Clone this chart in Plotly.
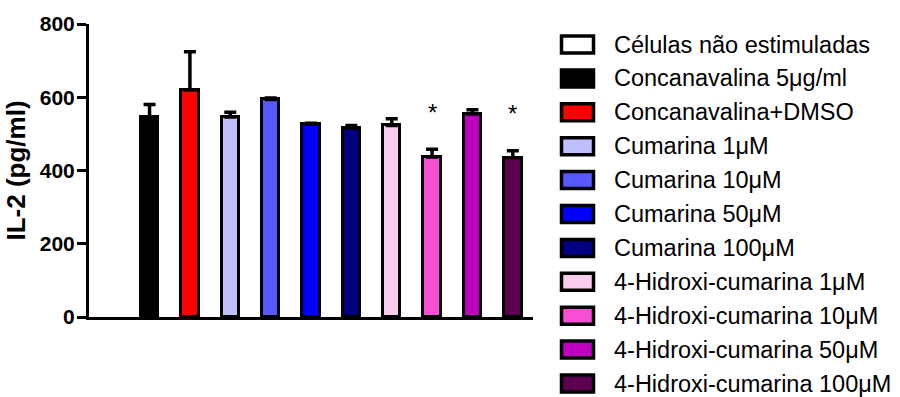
import plotly.graph_objects as go

# IL-2 production per treatment (pg/ml), mean and upper SEM
groups = [
    "Células não estimuladas",
    "Concanavalina 5μg/ml",
    "Concanavalina+DMSO",
    "Cumarina 1μM",
    "Cumarina 10μM",
    "Cumarina 50μM",
    "Cumarina 100μM",
    "4-Hidroxi-cumarina 1μM",
    "4-Hidroxi-cumarina 10μM",
    "4-Hidroxi-cumarina 50μM",
    "4-Hidroxi-cumarina 100μM",
]
# unstimulated cells: no detectable IL-2, no bar drawn
il2_mean = [None, 545, 620, 546, 594, 526, 516, 523, 437, 554, 435]
il2_sem = [None, 35, 104, 13, 4, 3, 7, 18, 21, 12, 19]
significance = ["", "", "", "", "", "", "", "", "*", "", "*"]
y_ticks = [0, 200, 400, 600, 800]

colors = [
    "#FFFFFF", "#000000", "#FF0000",
    "#C0C0FF", "#5858FF", "#0000FF", "#000080",
    "#F9CCEE", "#F550D4", "#C000C0", "#5E0050",
]

FONT = "Arial, Liberation Sans, Helvetica, sans-serif"
W_PX, H_PX = 900, 397
M_L, M_R, M_T, M_B = 89, 367, 24, 80
PLOT_W = W_PX - M_L - M_R
PLOT_H = H_PX - M_T - M_B


def px_x(px):
    return (px - M_L) / PLOT_W


def px_y(py):
    return (H_PX - M_B - py) / PLOT_H


fig = go.Figure()
x_idx = list(range(len(groups)))

fig.add_trace(go.Bar(
    x=x_idx,
    y=il2_mean,
    width=0.43,
    marker=dict(color=colors, line=dict(color="black", width=3)),
    error_y=dict(
        type="data",
        symmetric=False,
        array=il2_sem,
        arrayminus=[0 if s is not None else None for s in il2_sem],
        color="black",
        thickness=3.5,
        width=6,
    ),
    showlegend=False,
    hoverinfo="skip",
))

annotations = []
# significance markers above the error bars
for i, mark in enumerate(significance):
    if mark:
        top = il2_mean[i] + (il2_sem[i] or 0)
        annotations.append(dict(
            x=i, y=top, xref="x", yref="y", text=mark, showarrow=False,
            yanchor="middle", yshift=37,
            font=dict(family=FONT, size=24, color="black"),
        ))

# legend: outlined swatch + label per group
shapes = []
leg_top = 44.5
leg_step = 33.9
for i, (name, col) in enumerate(zip(groups, colors)):
    cy = leg_top + i * leg_step
    shapes.append(dict(
        type="rect", xref="paper", yref="paper",
        x0=px_x(561.5), x1=px_x(593.5),
        y0=px_y(cy + 8.5), y1=px_y(cy - 8.5),
        fillcolor=col, line=dict(color="black", width=3.5),
    ))
    annotations.append(dict(
        x=px_x(612), y=px_y(cy), xref="paper", yref="paper",
        text=name, showarrow=False, xanchor="left", yanchor="middle",
        font=dict(family=FONT, size=23.5, color="black"),
    ))

fig.update_layout(
    width=W_PX, height=H_PX,
    margin=dict(l=M_L, r=M_R, t=M_T, b=M_B, pad=0),
    paper_bgcolor="white", plot_bgcolor="white",
    showlegend=False,
    bargap=0,
    xaxis=dict(
        range=[-0.5, len(groups) - 0.5],
        showline=True, linecolor="black", linewidth=3,
        showticklabels=False, ticks="", showgrid=False, zeroline=False,
    ),
    yaxis=dict(
        range=[0, 800],
        tickvals=y_ticks,
        showline=True, linecolor="black", linewidth=3,
        ticks="outside", ticklen=9, tickwidth=3, tickcolor="black",
        ticklabelstandoff=-2,
        tickfont=dict(family=FONT, size=21, color="black", weight="bold"),
        showgrid=False, zeroline=False,
        title=dict(
            text="IL-2 (pg/ml)", standoff=7,
            font=dict(family=FONT, size=26, color="black", weight="bold"),
        ),
    ),
    shapes=shapes,
    annotations=annotations,
)

fig.write_html("out.html")
